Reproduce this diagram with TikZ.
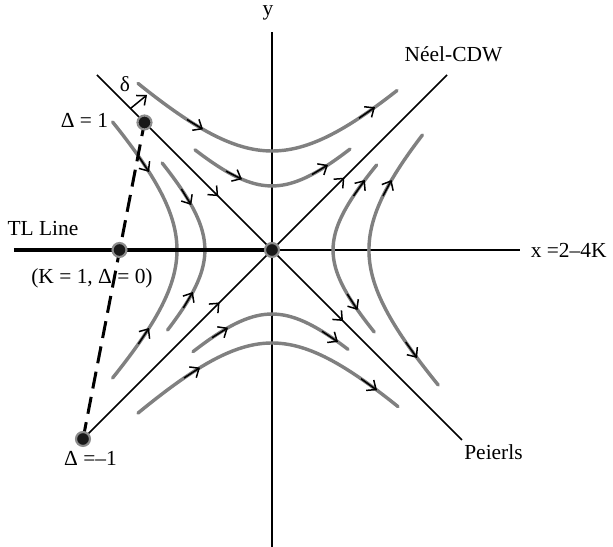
\documentclass[tikz,border=0pt]{standalone}
\usepackage{fontspec}
\setmainfont{Liberation Serif}
\usetikzlibrary{arrows.meta,positioning,decorations.markings}

\tikzset{
  flow/.style={line width=1.6pt, color=black!50, line cap=round},
  sep/.style={line width=0.7pt},
  axis/.style={line width=0.5pt},
  barb/.style={-{Straight Barb[length=3.5pt,width=6pt]}},
  arr/.style={line width=0.7pt, barb},
  fixpt/.style={circle, fill=black!90, draw=black!45, line width=1pt, inner sep=0pt, minimum size=6.5pt},
  midarrows/.style 2 args={postaction={decorate}, decoration={markings,
      mark=at position #1 with {\arrow{Straight Barb[length=3.5pt,width=6pt]}},
      mark=at position #2 with {\arrow{Straight Barb[length=3.5pt,width=6pt]}}}},
}

\begin{document}
\begin{tikzpicture}[x=0.82cm,y=0.82cm]
            \useasboundingbox (-5.44,-5.94) rectangle (6.82,5.0);
            % Points
            \coordinate (o) at (0,0);
            \coordinate (dm) at (-3.78,-3.78);
            \coordinate (dp) at (-2.55,2.55);
            \coordinate (tl) at (-3.05,0);
            \coordinate (nt) at (3.5,3.5);
            \coordinate (pt) at (-3.5,3.5);
            \coordinate (pb) at (3.8,-3.8);
            \coordinate (ybot) at (0,-5.94);
            \coordinate (ytop) at (0,4.36);
            \coordinate (xend) at (4.96,0);
            \coordinate (tlend) at (-5.16,0);
            % Axes
            \draw[axis] (ybot) -- (ytop);
            \draw[axis] (o) -- (xend);
            \node (ylab) at (-0.08,4.74) {y};
            \node[right=1.5pt of xend] (xlab) {x =2–4K};
            % Separatrices
            \draw[sep, midarrows={0.375}{0.718}] (dm) -- (nt);
            \draw[sep, midarrows={0.332}{0.674}] (pt) -- (pb);
            % Flow lines, upper and lower
            \foreach \c/\a/\b/\s in {3.92/-2.68/2.5/1, 1.64/-1.54/1.56/1, 3.46/-2.68/2.52/-1, 1.64/-1.58/1.52/-1}
                \draw[flow] plot[domain=\a:\b, samples=40, smooth] (\x,{\s*sqrt(\x*\x+\c)});
            % Flow lines, left and right
            \foreach \c/\a/\b/\s in {3.61/-2.56/2.56/-1, 1.8/-1.6/1.74/-1, 1.49/-1.64/1.7/1, 3.76/-2.7/2.3/1}
                \draw[flow] plot[domain=\a:\b, samples=40, smooth] ({\s*sqrt(\x*\x+\c)},\x);
            % Arrows on the flow lines
            \foreach \c/\s/\p in {3.92/1/-1.38, 3.92/1/2.06, 1.64/1/-0.6, 1.64/1/1.12, 3.46/-1/-1.44, 3.46/-1/2.1, 1.64/-1/-0.88, 1.64/-1/1.32}
                \draw[arr] ({\p-0.32},{\s*sqrt((\p-0.32)^2+\c)}) -- (\p,{\s*sqrt(\p*\p+\c)});
            \foreach \c/\s/\q/\p in {3.61/-1/1.88/1.56, 3.61/-1/-1.88/-1.56, 1.8/-1/1.22/0.9, 1.8/-1/-1.16/-0.84, 1.49/1/1.08/1.4, 1.49/1/-0.88/-1.2, 3.76/1/1.08/1.4, 3.76/1/-1.84/-2.16}
                \draw[arr] ({\s*sqrt(\q*\q+\c)},\q) -- ({\s*sqrt(\p*\p+\c)},\p);
            % TL line and the path of the model
            \draw[line width=2pt] (tlend) -- (o);
            \draw[line width=1.4pt, dash pattern=on 8pt off 4pt] (dm) -- (dp);
            % delta
            \coordinate (dbase) at (-2.83,2.83);
            \coordinate (dtip) at (-2.5,3.1);
            \draw[arr] (dbase) -- (dtip);
            % Fixed points
            \node[fixpt] (O) at (o) {};
            \node[fixpt] (Dm) at (dm) {};
            \node[fixpt] (Dp) at (dp) {};
            \node[fixpt] (TL) at (tl) {};
            % Labels
            \node (delta) at (-2.94,3.32) {δ};
            \node (dplab) at (-3.75,2.6) {Δ = 1};
            \node (dmlab) at (-3.63,-4.16) {Δ =–1};
            \node (tllab) at (-4.58,0.42) {TL Line};
            \node (kdlab) at (-3.6,-0.56) {(K = 1, Δ = 0)};
            \node (neel) at (3.63,3.91) {Néel-CDW};
            \node (peierls) at (4.43,-4.05) {Peierls};
        \end{tikzpicture}
\end{document}
